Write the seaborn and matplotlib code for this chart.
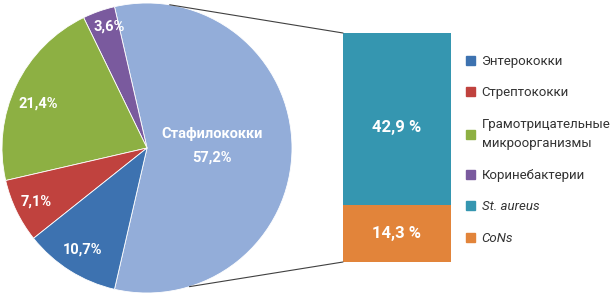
import numpy as np
import pandas as pd
import seaborn as sns
import matplotlib
matplotlib.use("Agg")
import matplotlib.pyplot as plt
from matplotlib.patches import ConnectionPatch, Patch

# pie data, counterclockwise from the big slice
pie_labels = ["Стафилококки", "Коринебактерии", "Грамотрицательные\nмикроорганизмы",
              "Стрептококки", "Энтерококки"]
pie_values = [57.2, 3.6, 21.4, 7.1, 10.7]
pie_colors = ["#93ADD9", "#7A5A9E", "#8DB043", "#C0423E", "#3D72B0"]
pie_text = ["Стафилококки\n57,2%", "3,6%", "21,4%", "7,1%", "10,7%"]

# bar of pie: split of staphylococci
bar_labels = ["St. aureus", "CoNs"]
bar_values = [42.9, 14.3]
bar_colors = ["#3596B0", "#E2843A"]
bar_text = ["42,9 %", "14,3 %"]

legend_order = ["Энтерококки", "Стрептококки", "Грамотрицательные\nмикроорганизмы",
                "Коринебактерии"]

sns.set_style("white")
plt.rcParams["font.family"] = ["Roboto", "DejaVu Sans"]

W, H = 615, 296
fig = plt.figure(figsize=(W / 100, H / 100), dpi=100)

# pie
ax1 = fig.add_axes([2 / W, 3 / H, 290 / W, 290 / H])
start = -pie_values[0] / 100 * 360 / 2
wedges, _ = ax1.pie(pie_values, colors=pie_colors, startangle=start, radius=1,
                    counterclock=True, wedgeprops=dict(linewidth=0.6, edgecolor="white"))
ax1.set_xlim(-1, 1)
ax1.set_ylim(-1, 1)
ax1.set_aspect("equal")
ax1.axis("off")

# (radius, angle shift) for each slice label
label_pos = [(0.45, 2), (0.88, -2), (0.81, 3.5), (0.85, 0), (0.83, 0)]
for w, t, (r, da) in zip(wedges, pie_text, label_pos):
    mid = np.deg2rad((w.theta1 + w.theta2) / 2 + da)
    ax1.text(r * np.cos(mid), r * np.sin(mid), t, ha="center", va="center",
             color="white", fontsize=10.5, fontweight="bold", linespacing=1.8)

# stacked bar
ax2 = fig.add_axes([343 / W, 34 / H, 108 / W, 229 / H])
df_total = pd.DataFrame({"x": [0], "y": [sum(bar_values)]})
df_low = pd.DataFrame({"x": [0], "y": [bar_values[1]]})
sns.barplot(data=df_total, x="x", y="y", color=bar_colors[0], width=1,
            saturation=1, ax=ax2, linewidth=0)
sns.barplot(data=df_low, x="x", y="y", color=bar_colors[1], width=1,
            saturation=1, ax=ax2, linewidth=0)
ax2.set_xlim(-0.5, 0.5)
ax2.set_ylim(0, sum(bar_values))
ax2.axis("off")
ax2.text(0, bar_values[1] + bar_values[0] / 2 - 2.2, bar_text[0], ha="center",
         va="center", color="white", fontsize=12, fontweight="bold")
ax2.text(0, bar_values[1] / 2, bar_text[1], ha="center", va="center",
         color="white", fontsize=12, fontweight="bold")

# connector lines
for a, yb in [(81, sum(bar_values)), (-73, 0)]:
    p = (np.cos(np.deg2rad(a)), np.sin(np.deg2rad(a)))
    con = ConnectionPatch(xyA=p, coordsA=ax1.transData, xyB=(-0.5, yb),
                          coordsB=ax2.transData, color="#404040", linewidth=0.8)
    fig.add_artist(con)

# legend
handles = []
for name in legend_order:
    handles.append(Patch(color=pie_colors[pie_labels.index(name)], label=name))
for name, c in zip(bar_labels, bar_colors):
    handles.append(Patch(color=c, label=name))
leg = fig.legend(handles=handles, loc="upper left", bbox_to_anchor=(454 / W, 1 - 43 / H),
                 frameon=False, fontsize=9.5, handlelength=0.7, handleheight=0.7,
                 handletextpad=0.5, labelspacing=1.4, labelcolor="#333333")
for t in leg.get_texts():
    t.set_linespacing(1.65)
for t in leg.get_texts()[-2:]:
    t.set_fontstyle("italic")

fig.savefig("out.png", dpi=100)
